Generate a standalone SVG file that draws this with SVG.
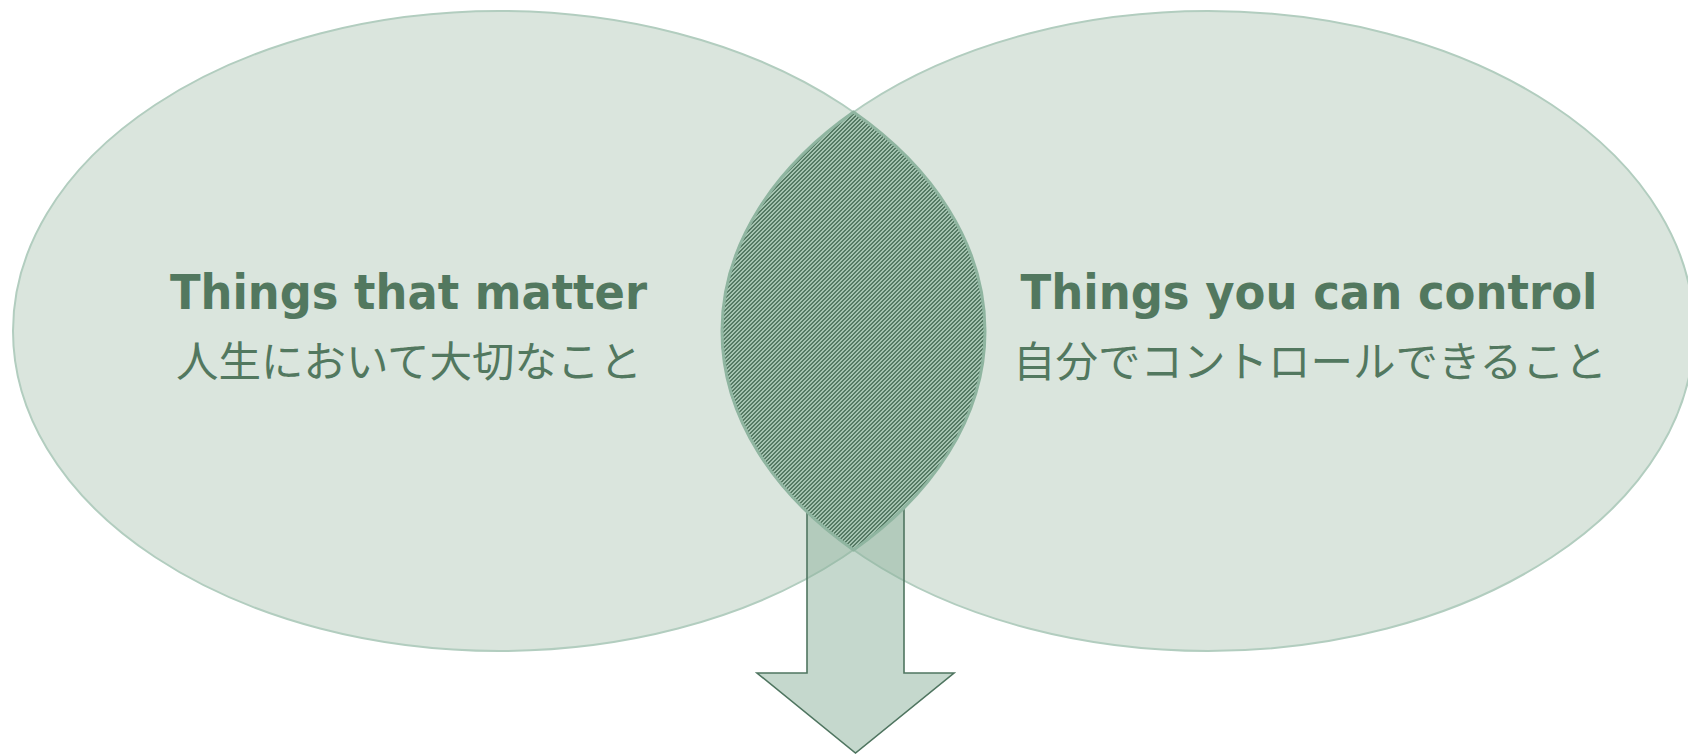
<svg xmlns="http://www.w3.org/2000/svg" width="1688" height="754" viewBox="0 0 1688 754">
  <style>
    .circle { fill: #dae5dd; stroke: #b2cdbf; stroke-width: 2; }
    .title { font-family: "DejaVu Sans", Verdana, "Liberation Sans", sans-serif; font-weight: bold; font-size: 48px; fill: #52785f; text-anchor: middle; }
    .sub { font-family: "Noto Sans CJK JP", "Noto Sans", sans-serif; font-size: 42.5px; fill: #52785f; text-anchor: middle; }
    .arrow { fill: #8bb19b; fill-opacity: 0.5; stroke: #4f7560; stroke-width: 1.6; stroke-linejoin: miter; }
    .lens { fill: url(#hatch); stroke: #8fb5a0; stroke-width: 3; }
  </style>
  <defs>
    <pattern id="hatch" patternUnits="userSpaceOnUse" width="4" height="4">
      <rect x="0" y="0" width="4" height="4" fill="#a4c3b0"/>
      <g fill="#557a64">
        <rect x="2" y="0" width="2" height="1"/>
        <rect x="1" y="1" width="2" height="1"/>
        <rect x="0" y="2" width="2" height="1"/>
        <rect x="3" y="3" width="1" height="1"/>
        <rect x="0" y="3" width="1" height="1"/>
      </g>
    </pattern>
  </defs>

  <g id="node-matter">
    <ellipse class="circle" cx="499" cy="331" rx="486" ry="320"/>
  </g>
  <g id="node-control">
    <ellipse class="circle" cx="1208" cy="331" rx="486" ry="320"/>
  </g>

  <g id="connectors">
    <path class="arrow" d="M807,470 L904,470 L904,673 L954,673 L855.5,753 L757,673 L807,673 Z"/>
  </g>

  <g id="node-overlap">
    <path class="lens" d="M853.5,112.1 A486,320 0 0,1 853.5,549.9 A486,320 0 0,1 853.5,112.1 Z"/>
  </g>

  <g id="label-matter">
    <text class="title" x="408.5" y="309" textLength="477" lengthAdjust="spacingAndGlyphs">Things that matter</text>
    <text class="sub" x="409" y="377">人生において大切なこと</text>
  </g>
  <g id="label-control">
    <text class="title" x="1309" y="309" textLength="577" lengthAdjust="spacingAndGlyphs">Things you can control</text>
    <text class="sub" x="1310" y="377">自分でコントロールできること</text>
  </g>
</svg>
